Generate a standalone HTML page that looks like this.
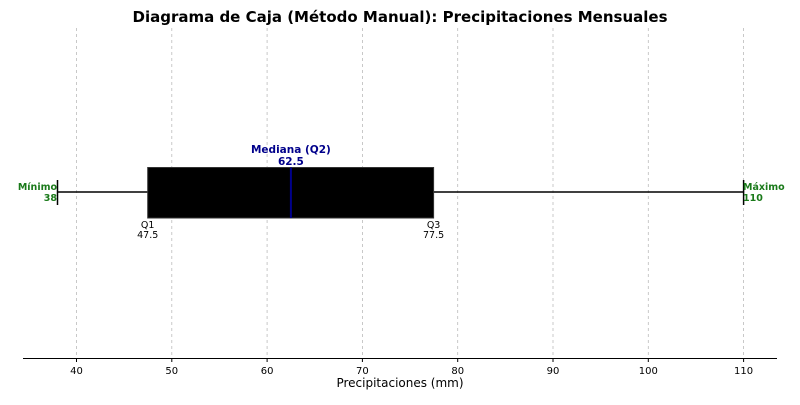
<!DOCTYPE html><html><head><style>body{margin:0;background:#fff}</style></head><body>
<svg width="800" height="400" xmlns="http://www.w3.org/2000/svg" font-family="DejaVu Sans, Liberation Sans, sans-serif">
<rect width="800" height="400" fill="#fff"/>
<text x="400" y="22" text-anchor="middle" font-size="15" font-weight="bold">Diagrama de Caja (Método Manual): Precipitaciones Mensuales</text>
<g stroke="#bbb" stroke-dasharray="3,3" stroke-width="0.8">
<line x1="76.5" y1="28" x2="76.5" y2="358"/><line x1="171.8" y1="28" x2="171.8" y2="358"/><line x1="267.1" y1="28" x2="267.1" y2="358"/><line x1="362.4" y1="28" x2="362.4" y2="358"/><line x1="457.7" y1="28" x2="457.7" y2="358"/><line x1="553" y1="28" x2="553" y2="358"/><line x1="648.3" y1="28" x2="648.3" y2="358"/><line x1="743.6" y1="28" x2="743.6" y2="358"/>
</g>
<line x1="23" y1="358.5" x2="777" y2="358.5" stroke="#000" stroke-width="1"/>
<g stroke="#000"><line x1="76.5" y1="358" x2="76.5" y2="362"/><line x1="171.8" y1="358" x2="171.8" y2="362"/><line x1="267.1" y1="358" x2="267.1" y2="362"/><line x1="362.4" y1="358" x2="362.4" y2="362"/><line x1="457.7" y1="358" x2="457.7" y2="362"/><line x1="553" y1="358" x2="553" y2="362"/><line x1="648.3" y1="358" x2="648.3" y2="362"/><line x1="743.6" y1="358" x2="743.6" y2="362"/></g>
<g font-size="10" text-anchor="middle"><text x="76.5" y="374">40</text><text x="171.8" y="374">50</text><text x="267.1" y="374">60</text><text x="362.4" y="374">70</text><text x="457.7" y="374">80</text><text x="553" y="374">90</text><text x="648.3" y="374">100</text><text x="743.6" y="374">110</text></g>
<text x="400" y="387" text-anchor="middle" font-size="12">Precipitaciones (mm)</text>
<line x1="57.5" y1="192" x2="743.6" y2="192" stroke="#000" stroke-width="1.5"/>
<line x1="57.5" y1="180" x2="57.5" y2="205" stroke="#000" stroke-width="1.5"/>
<line x1="743.6" y1="180" x2="743.6" y2="205" stroke="#000" stroke-width="1.5"/>
<rect x="147.7" y="167.5" width="285.9" height="50.5" fill="#000" stroke="#333"/>
<line x1="290.9" y1="167.5" x2="290.9" y2="218" stroke="#00008b" stroke-width="2"/>
<text x="290.9" y="153" text-anchor="middle" font-size="10.5" font-weight="bold" fill="#00008b">Mediana (Q2)</text>
<text x="290.9" y="165" text-anchor="middle" font-size="10.5" font-weight="bold" fill="#00008b">62.5</text>
<g font-size="9.5" text-anchor="middle"><text x="147.7" y="228">Q1</text><text x="147.7" y="238">47.5</text><text x="433.6" y="228">Q3</text><text x="433.6" y="238">77.5</text></g>
<g font-size="9.5" font-weight="bold" fill="#1a7a1a"><text x="57" y="190" text-anchor="end">Mínimo</text><text x="57" y="201" text-anchor="end">38</text><text x="743" y="190">Máximo</text><text x="743" y="201">110</text></g>
</svg></body></html>
